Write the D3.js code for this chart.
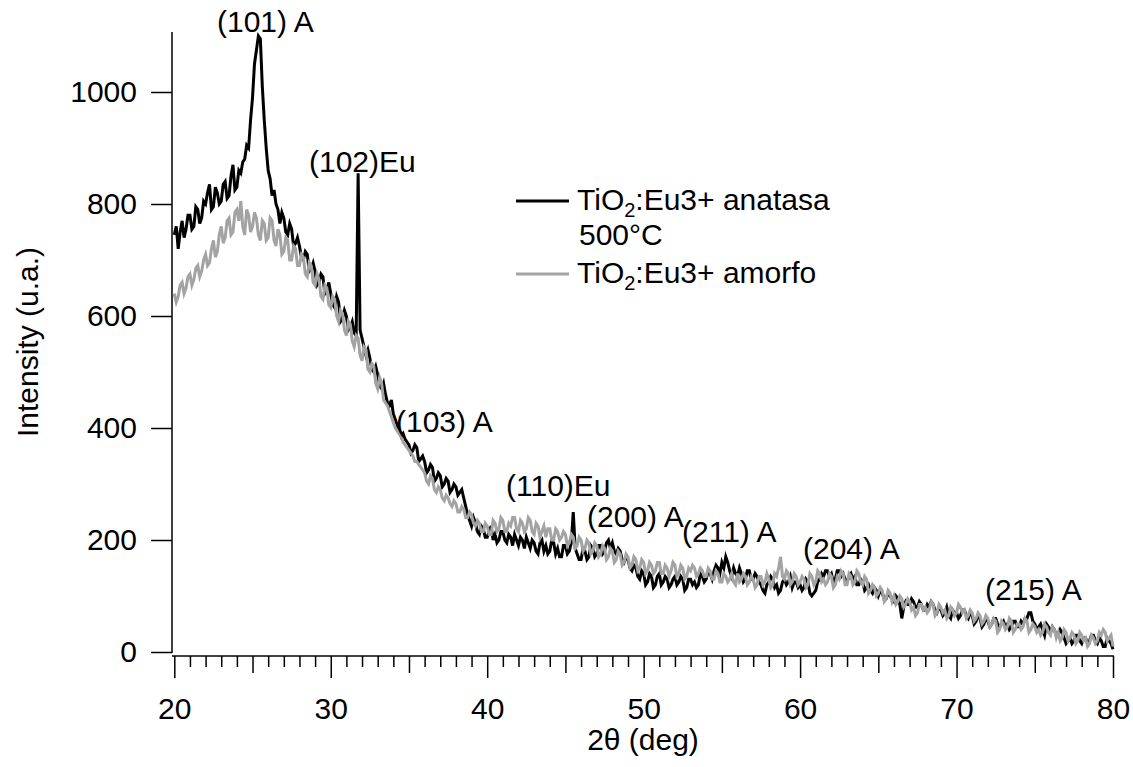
<!DOCTYPE html>
<html>
<head>
<meta charset="utf-8">
<title>XRD TiO2:Eu3+</title>
<style>
    body { margin: 0; background: white; }
    text { font-family: "Liberation Sans", Arial, sans-serif; fill: black; }
</style>
</head>
<body>
<div id="chart"></div>
<script src="https://cdn.jsdelivr.net/npm/d3@7/dist/d3.min.js"></script>
<script>
    // 2theta grid: 20..80 deg, 0.125 deg step (one row = one degree)
    let angleStart = 20, angleStep = 0.125

    // TiO2:Eu3+ anatasa 500°C (black)
    let anatasa = [
        745, 760, 720, 750, 770, 740, 755, 780,
        780, 755, 760, 795, 790, 765, 775, 805,
        800, 820, 835, 790, 795, 830, 820, 800,
        805, 835, 840, 810, 815, 850, 870, 825,
        830, 860, 855, 875, 880, 905, 900, 950,
        990, 1050, 1075, 1100, 1095, 1010, 950, 900,
        860, 845, 815, 825, 800, 790, 765, 785,
        775, 750, 745, 765, 755, 725, 730, 740,
        725, 705, 700, 715, 710, 680, 685, 695,
        680, 655, 660, 675, 670, 640, 645, 660,
        640, 620, 615, 635, 625, 590, 595, 610,
        600, 575, 580, 590, 570, 565, 855, 575,
        560, 545, 530, 540, 525, 505, 500, 510,
        495, 475, 470, 480, 460, 445, 440, 450,
        425, 415, 405, 395, 385, 390, 380, 375,
        370, 355, 360, 370, 365, 340, 345, 350,
        340, 320, 325, 335, 330, 305, 310, 320,
        315, 295, 300, 310, 305, 285, 290, 300,
        295, 280, 285, 290, 275, 260, 245, 235,
        225, 240, 230, 215, 210, 225, 220, 205,
        205, 215, 225, 200, 210, 195, 200, 215,
        215, 200, 195, 210, 205, 190, 210, 200,
        190, 205, 200, 185, 205, 195, 185, 200,
        195, 180, 175, 195, 200, 180, 190, 175,
        180, 200, 195, 175, 185, 170, 170, 190,
        190, 175, 180, 195, 250, 185, 175, 165,
        165, 185, 180, 165, 170, 190, 185, 170,
        175, 190, 190, 175, 180, 195, 200, 185,
        195, 180, 175, 185, 180, 165, 160, 170,
        165, 150, 145, 155, 150, 135, 130, 145,
        140, 120, 125, 140, 135, 115, 120, 135,
        140, 120, 125, 135, 130, 115, 120, 130,
        135, 120, 125, 135, 130, 110, 115, 130,
        130, 120, 125, 115, 120, 140, 135, 125,
        130, 145, 140, 130, 145, 155, 150, 140,
        160, 150, 170, 160, 145, 135, 150, 140,
        135, 150, 140, 125, 130, 145, 145, 130,
        130, 140, 135, 125, 120, 110, 105, 120,
        125, 135, 130, 115, 120, 105, 110, 125,
        130, 120, 125, 135, 115, 125, 125, 115,
        120, 110, 115, 130, 125, 105, 100, 105,
        110, 125, 130, 140, 135, 145, 145, 135,
        140, 125, 130, 145, 145, 135, 140, 130,
        125, 135, 140, 130, 135, 120, 120, 130,
        125, 110, 115, 120, 110, 105, 115, 110,
        100, 110, 105, 95, 95, 105, 100, 95,
        90, 100, 95, 85, 60, 80, 90, 85,
        85, 95, 90, 80, 80, 90, 85, 75,
        75, 85, 80, 90, 85, 75, 70, 80,
        75, 65, 70, 80, 65, 60, 75, 70,
        70, 60, 65, 75, 75, 65, 60, 70,
        65, 50, 55, 65, 60, 45, 50, 60,
        55, 45, 50, 60, 60, 50, 45, 50,
        55, 45, 50, 40, 45, 55, 55, 45,
        45, 55, 50, 60, 60, 70, 70, 55,
        50, 40, 45, 50, 40, 30, 50, 45,
        35, 45, 40, 30, 30, 40, 35, 25,
        15, 20, 25, 15, 20, 30, 30, 20,
        15, 25, 25, 15, 20, 30, 30, 20,
        15, 25, 20, 10, 10, 25, 20, 15,
        5
    ]

    // TiO2:Eu3+ amorfo (grey)
    let amorfo = [
        640, 625, 635, 655, 660, 640, 650, 670,
        675, 655, 665, 685, 690, 670, 680, 700,
        710, 690, 695, 720, 735, 705, 715, 745,
        760, 730, 740, 770, 775, 745, 750, 785,
        790, 770, 805, 760, 745, 790, 780, 750,
        760, 785, 775, 745, 735, 770, 765, 735,
        740, 775, 770, 735, 725, 755, 745, 710,
        715, 740, 735, 700, 700, 725, 720, 690,
        690, 710, 705, 675, 670, 695, 690, 660,
        655, 675, 665, 635, 630, 655, 650, 620,
        615, 635, 630, 600, 590, 610, 605, 575,
        565, 590, 585, 555, 545, 565, 560, 530,
        520, 545, 540, 505, 500, 515, 510, 480,
        470, 490, 480, 450, 445, 440, 430, 420,
        410, 400, 395, 390, 385, 375, 370, 365,
        360, 355, 350, 340, 340, 335, 330, 325,
        320, 305, 300, 315, 310, 290, 285, 295,
        290, 275, 270, 280, 275, 265, 260, 270,
        265, 250, 250, 260, 255, 240, 240, 250,
        245, 230, 225, 235, 230, 215, 215, 230,
        225, 210, 210, 235, 230, 215, 220, 240,
        235, 215, 215, 230, 225, 240, 240, 220,
        215, 235, 230, 215, 220, 240, 235, 215,
        210, 230, 225, 205, 215, 225, 205, 220,
        220, 200, 200, 220, 215, 200, 205, 215,
        210, 190, 195, 210, 205, 185, 190, 205,
        200, 180, 185, 200, 195, 175, 180, 195,
        190, 170, 175, 190, 185, 165, 170, 185,
        180, 160, 165, 180, 175, 155, 160, 175,
        170, 150, 155, 170, 165, 145, 150, 165,
        160, 140, 145, 160, 155, 140, 145, 160,
        160, 140, 140, 155, 150, 135, 145, 160,
        155, 135, 140, 155, 150, 130, 135, 150,
        145, 155, 150, 135, 140, 150, 145, 135,
        135, 150, 145, 130, 130, 145, 140, 125,
        125, 140, 135, 125, 130, 140, 125, 120,
        140, 125, 130, 140, 135, 120, 125, 135,
        130, 115, 120, 135, 135, 120, 125, 140,
        130, 115, 120, 140, 135, 150, 170, 135,
        130, 145, 140, 120, 125, 140, 135, 120,
        125, 135, 130, 115, 120, 140, 135, 120,
        125, 145, 140, 125, 130, 120, 125, 140,
        135, 115, 120, 135, 130, 145, 140, 120,
        120, 140, 135, 120, 125, 145, 140, 125,
        120, 135, 130, 105, 110, 120, 115, 100,
        105, 115, 110, 90, 95, 110, 105, 90,
        100, 85, 90, 100, 95, 80, 85, 95,
        90, 75, 80, 65, 70, 85, 85, 75,
        80, 70, 75, 90, 85, 65, 70, 85,
        80, 70, 75, 60, 65, 80, 75, 65,
        70, 85, 80, 70, 75, 60, 65, 75,
        70, 55, 60, 70, 65, 50, 55, 65,
        60, 45, 50, 60, 55, 35, 40, 55,
        50, 40, 45, 60, 55, 35, 40, 50,
        50, 40, 45, 60, 55, 35, 40, 50,
        45, 35, 40, 30, 35, 50, 45, 35,
        30, 45, 40, 25, 35, 20, 25, 40,
        35, 20, 25, 35, 30, 15, 20, 35,
        30, 20, 25, 10, 15, 30, 25, 15,
        20, 35, 30, 40, 35, 20, 25, 30,
        10
    ]

    let yTicks = [0, 200, 400, 600, 800, 1000]
    let xTicks = [20, 30, 40, 50, 60, 70, 80]

    let peaks = [
        {label: "(101) A", x: 217, y: 32},
        {label: "(102)Eu", x: 309, y: 172},
        {label: "(103) A", x: 396, y: 432},
        {label: "(110)Eu", x: 506, y: 496},
        {label: "(200) A", x: 587, y: 527},
        {label: "(211) A", x: 682, y: 542},
        {label: "(204) A", x: 803, y: 559},
        {label: "(215) A", x: 985, y: 600}
    ]

    let width = 1133, height = 767

    let svg = d3.select("#chart").append("svg")
        .attr("width", width)
        .attr("height", height)

    let x = d3.scaleLinear().domain([20, 80]).range([174.3, 1113])
    let y = d3.scaleLinear().domain([0, 1000]).range([652, 92])

    let fs = 30

    // y axis
    svg.append("line")
        .attr("x1", 172).attr("x2", 172)
        .attr("y1", y(1107)).attr("y2", 653)
        .attr("stroke", "black").attr("stroke-width", 1.5)

    let yAxis = svg.append("g")
        .attr("transform", "translate(172,0)")
        .call(d3.axisLeft(y).tickValues(yTicks).tickSize(21).tickSizeOuter(0)
            .tickPadding(14).tickFormat(d3.format("d")))
    yAxis.select(".domain").remove()
    yAxis.selectAll("line").attr("stroke-width", 1.5)
    yAxis.selectAll("text").attr("font-size", fs).attr("font-family", null)

    // x axis
    svg.append("line")
        .attr("x1", 172).attr("x2", 1114)
        .attr("y1", 656).attr("y2", 656)
        .attr("stroke", "black").attr("stroke-width", 1.5)

    let minorTicks = d3.range(20, 81).filter(d => d % 5 !== 0)
    let midTicks = [25, 35, 45, 55, 65, 75]

    let xMinor = svg.append("g").attr("transform", "translate(0,656)")
        .call(d3.axisBottom(x).tickValues(minorTicks).tickSize(11).tickFormat(""))
    let xMid = svg.append("g").attr("transform", "translate(0,656)")
        .call(d3.axisBottom(x).tickValues(midTicks).tickSize(17).tickFormat(""))
    let xMajor = svg.append("g").attr("transform", "translate(0,656)")
        .call(d3.axisBottom(x).tickValues(xTicks).tickSize(22).tickPadding(20))
    svg.selectAll(".domain").remove()
    ;[xMinor, xMid, xMajor].forEach(g => g.selectAll("line").attr("stroke-width", 1.5))
    xMajor.selectAll("text").attr("font-size", fs).attr("font-family", null)

    // axis titles
    svg.append("text")
        .attr("transform", "translate(38,342) rotate(-90)")
        .attr("text-anchor", "middle")
        .attr("font-size", fs)
        .text("Intensity (u.a.)")

    svg.append("text")
        .attr("x", 643).attr("y", 750)
        .attr("text-anchor", "middle")
        .attr("font-size", fs)
        .text("2θ (deg)")

    // data lines
    let line = d3.line()
        .x((d, i) => x(angleStart + i * angleStep))
        .y(d => y(d))

    svg.append("path")
        .datum(anatasa)
        .attr("d", line)
        .attr("fill", "none")
        .attr("stroke", "black")
        .attr("stroke-width", 3)

    svg.append("path")
        .datum(amorfo)
        .attr("d", line)
        .attr("fill", "none")
        .attr("stroke", "#a3a3a3")
        .attr("stroke-width", 3)

    // peak labels
    svg.selectAll(".peak")
        .data(peaks)
        .enter()
        .append("text")
        .attr("class", "peak")
        .attr("x", d => d.x)
        .attr("y", d => d.y)
        .attr("font-size", fs)
        .text(d => d.label)

    // legend
    let legend = svg.append("g")
    legend.append("line")
        .attr("x1", 516).attr("x2", 569).attr("y1", 201).attr("y2", 201)
        .attr("stroke", "black").attr("stroke-width", 3)
    legend.append("line")
        .attr("x1", 516).attr("x2", 569).attr("y1", 274).attr("y2", 274)
        .attr("stroke", "#a3a3a3").attr("stroke-width", 3)

    function legendText(yPos, rest){
        let t = legend.append("text")
            .attr("x", 577).attr("y", yPos)
            .attr("font-size", fs)
        t.append("tspan").text("TiO")
        t.append("tspan").attr("font-size", 20).attr("dy", 7).text("2")
        t.append("tspan").attr("dy", -7).text(rest)
    }
    legendText(210, ":Eu3+ anatasa")
    legend.append("text")
        .attr("x", 579).attr("y", 245)
        .attr("font-size", fs)
        .text("500°C")
    legendText(283, ":Eu3+ amorfo")
</script>
</body>
</html>
